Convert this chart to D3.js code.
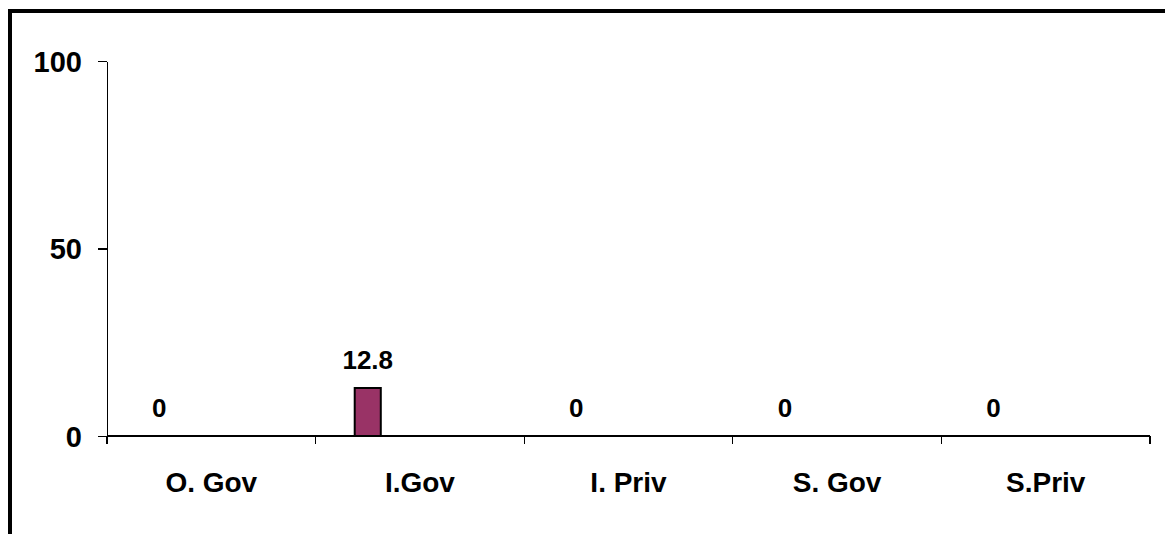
<!DOCTYPE html>
<meta charset="utf-8">
<style>
body { margin:0; background:#fff; }
svg text { font-family: "Liberation Sans", Arial, sans-serif; font-weight: bold; fill:#000; }
.axis path, .axis line { stroke:#000; stroke-width:1.3px; shape-rendering:crispEdges; }
</style>
<body>
<svg width="1165" height="534" id="vis"></svg>
</body>
<script src="https://d3js.org/d3.v7.min.js"></script>
<script>
var categories = ["O. Gov", "I.Gov", "I. Priv", "S. Gov", "S.Priv"];
var values = [0, 12.8, 0, 0, 0];
var yTicks = [0, 50, 100];
var slots = [0, 1, 2, 3, 4];   // excel-style cluster slots, only first one used

var svg = d3.select("svg"),
    margin = {top: 61, right: 15, bottom: 98, left: 107},
    width = +svg.attr("width") - margin.left - margin.right,
    height = +svg.attr("height") - margin.top - margin.bottom;

// frame (top + left only visible)
svg.append("path")
    .attr("d", "M10,534V11H1165")
    .attr("fill", "none")
    .attr("stroke", "#000")
    .attr("stroke-width", 4);

var g = svg.append("g")
    .attr("transform", "translate(" + margin.left + "," + margin.top + ")");

var x0 = d3.scaleBand().domain(categories).range([0, width]);
var x1 = d3.scaleBand().domain(slots).range([0, x0.bandwidth()]).paddingOuter(1.5);
var y = d3.scaleLinear().domain([0, 100]).range([height, 0]);

var yaxis = g.append("g")
    .attr("class", "axis")
    .call(d3.axisLeft(y).tickValues(yTicks).tickSize(9).tickSizeOuter(0).tickPadding(16).tickFormat(d3.format("d")));
yaxis.selectAll("text").style("font-size", "29px").attr("dy", "0.36em");

// x axis: line + ticks at category boundaries
var xaxis = g.append("g").attr("class", "axis")
    .attr("transform", "translate(0," + height + ")");
xaxis.append("line").attr("x1", 0).attr("x2", width);
var bounds = categories.map(function(c) { return x0(c); }).concat([width]);
xaxis.selectAll(".tk").data(bounds).enter().append("line")
    .attr("class", "tk")
    .attr("x1", function(d) { return d; }).attr("x2", function(d) { return d; })
    .attr("y1", 0).attr("y2", 8);
xaxis.selectAll(".lbl").data(categories).enter().append("text")
    .attr("class", "lbl")
    .attr("x", function(d) { return x0(d) + x0.bandwidth() / 2; })
    .attr("y", 56)
    .attr("text-anchor", "middle")
    .style("font-size", "28px")
    .text(function(d) { return d; });

var data = categories.map(function(c, i) { return {cat: c, v: values[i]}; });

g.selectAll(".bar").data(data).enter().append("rect")
    .attr("class", "bar")
    .attr("x", function(d) { return x0(d.cat) + x1(0); })
    .attr("width", x1.bandwidth())
    .attr("y", function(d) { return y(d.v); })
    .attr("height", function(d) { return height - y(d.v); })
    .attr("fill", "#993366")
    .attr("stroke", "#000")
    .attr("stroke-width", 2)
    .style("display", function(d) { return d.v > 0 ? null : "none"; });

g.selectAll(".val").data(data).enter().append("text")
    .attr("class", "val")
    .attr("x", function(d) { return x0(d.cat) + x1(0) + x1.bandwidth() / 2; })
    .attr("y", function(d) { return y(d.v) - 19; })
    .attr("text-anchor", "middle")
    .style("font-size", "26px")
    .text(function(d) { return d.v; });
</script>
